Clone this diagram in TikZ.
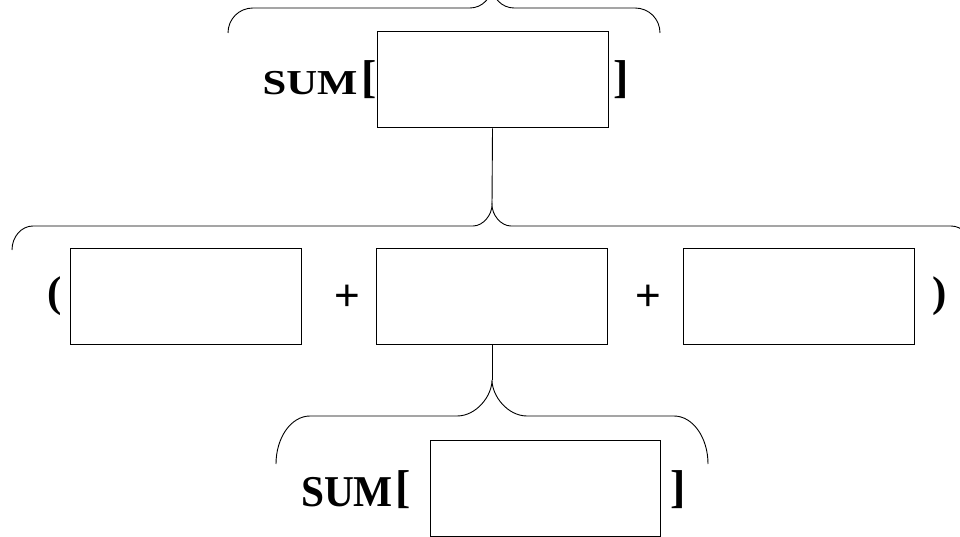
\documentclass[tikz,border=0pt]{standalone}
\usepackage{fontspec}
\setmainfont{Liberation Serif}
\newfontfamily\plusfont{Liberation Sans}
\begin{document}
\begin{tikzpicture}[x=1pt,y=-1pt,
  box/.style={draw,line width=1pt,minimum width=231pt,minimum height=96pt,inner sep=0pt},
  brace/.style={line width=0.9pt},
  sumlbl/.style={inner sep=0pt,anchor=base,font=\fontsize{35}{35}\selectfont\bfseries,xscale=1.22},
  bsumlbl/.style={inner sep=0pt,anchor=base,font=\fontsize{44}{44}\selectfont\bfseries,xscale=0.94},
  brk/.style={inner sep=0pt,font=\fontsize{46}{46}\selectfont\bfseries},
  par/.style={inner sep=0pt,font=\fontsize{43}{43}\selectfont\bfseries},
  op/.style={inner sep=0pt,font=\plusfont\fontsize{44}{44}\selectfont}]
\clip (0,0) rectangle (960,537);
\useasboundingbox (0,0) rectangle (960,537);
% top
\node[box] (top) at (492.5,80) {};
\node[sumlbl] (sumtop) at (310,95) {SUM};
\node[brk] (lbt) at (369,80) {[};
\node[brk] (rbt) at (621,80) {]};
% middle
\node[box] (m1) at (185.5,296) {};
\node[box] (m2) at (492,296) {};
\node[box] (m3) at (799,296) {};
\node[par] (lp) at (55,296) {(};
\node[op] (p1) at (347.5,298) {+};
\node[op] (p2) at (648,298) {+};
\node[par] (rp) at (940,296) {)};
% bottom
\node[box,minimum width=230pt] (bot) at (545,488) {};
\node[bsumlbl] (sumbot) at (347,506) {SUM};
\node[brk] (lbb) at (403,490) {[};
\node[brk] (rbb) at (678,490) {]};
% brace tips
\coordinate (t0) at (492,-14);
\coordinate (t1) at (492,205);
\coordinate (t2) at (492,380);
% top brace
\draw[brace] (228,33) .. controls (228,19.2) and (238.8,8) .. (253,8) -- (470,8)
  .. controls (482.1,8) and (492,-2.4) .. (t0)
  .. controls (492,-2.4) and (501.9,8) .. (514,8) -- (635,8)
  .. controls (649.2,8) and (660,19.2) .. (660,33);
% middle brace
\draw[brace] (12,250) .. controls (12,236.7) and (21.4,226) .. (33,226) -- (473,226)
  .. controls (483.5,226) and (492,214.4) .. (t1)
  .. controls (492,214.4) and (500.5,226) .. (511,226) -- (951,226)
  .. controls (962.6,226) and (972,236.7) .. (972,250);
% bottom brace
\draw[brace] (276,464) .. controls (276,437.5) and (291.2,416) .. (310,416) -- (457,416)
  .. controls (476.3,416) and (492,396.1) .. (t2)
  .. controls (492,396.1) and (507.7,416) .. (527,416) -- (674,416)
  .. controls (692.8,416) and (708,437.5) .. (708,464);
% connectors
\draw[line width=0.9pt] (top.south) -- (t1);
\draw[line width=0.9pt] (m2.south) -- (t2);
\end{tikzpicture}
\end{document}
